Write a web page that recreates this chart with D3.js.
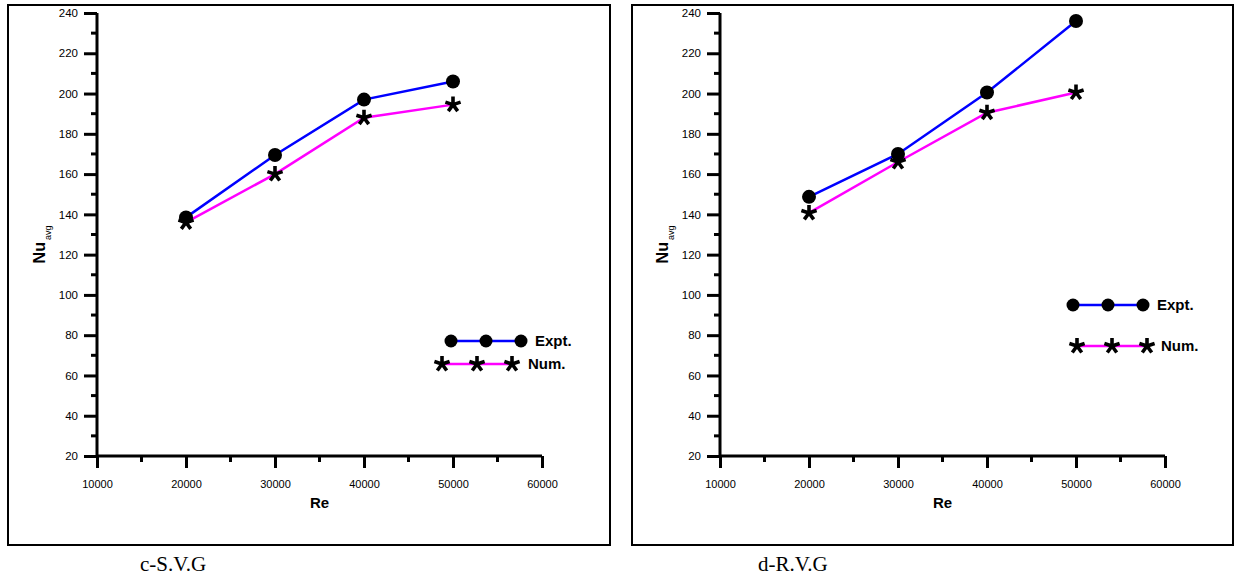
<!DOCTYPE html>
<html><head><meta charset="utf-8">
<script src="https://cdn.jsdelivr.net/npm/d3@7/dist/d3.min.js"></script>
<style>
html,body{margin:0;padding:0;background:#fff;}
svg{display:block;}
</style></head>
<body>
<script>
// ---- data ----
const reValues = [20000, 30000, 40000, 50000];
const svgExpt = [138.5, 169.5, 197, 206];
const svgNum  = [136, 160, 188, 194.5];
const rvgExpt = [148.7, 170, 200.5, 236];
const rvgNum  = [140.7, 166, 190.5, 200.5];
const xTicks = [10000, 20000, 30000, 40000, 50000, 60000];
const yTicks = [20, 40, 60, 80, 100, 120, 140, 160, 180, 200, 220, 240];
const seriesNames = ["Expt.", "Num."];
const captions = ["c-S.V.G", "d-R.V.G"];

const W = 1238, H = 577;
const svg = d3.select("body").append("svg").attr("width", W).attr("height", H);

// custom 5-arm asterisk symbol
const asterisk = {
  draw(ctx, size) {
    const r = Math.sqrt(size);
    for (let i = 0; i < 5; i++) {
      const a = -Math.PI / 2 + i * 2 * Math.PI / 5;
      ctx.moveTo(0, 0);
      ctx.lineTo(r * Math.cos(a), r * Math.sin(a));
    }
  }
};
const FONT = "Liberation Sans, Arial, sans-serif";

function panel(cfg) {
  const g = svg.append("g");
  g.append("rect").attr("x", cfg.fx).attr("y", cfg.fy).attr("width", cfg.fw).attr("height", cfg.fh)
    .attr("fill", "none").attr("stroke", "#000").attr("stroke-width", 2);

  const x = d3.scaleLinear().domain([10000, 60000]).range([cfg.x0, cfg.x1]);
  const y = d3.scaleLinear().domain([20, 240]).range([cfg.y0, cfg.y1]);

  const yMinor = d3.range(30, 240, 20);
  const xMinor = d3.range(15000, 60000, 10000);

  const ya = g.append("g").attr("transform", `translate(${cfg.x0},0)`)
    .call(d3.axisLeft(y).tickValues(yTicks).tickSize(13).tickPadding(6).tickFormat(d3.format("d")));
  ya.select(".domain").attr("stroke-width", 3).attr("d", `M0,${cfg.y0+1.5}V${cfg.y1}`);
  ya.selectAll(".tick line").attr("stroke-width", 3);
  ya.selectAll(".tick text").attr("font-family", FONT).attr("font-size", 11.5).attr("fill", "#000");
  g.append("g").selectAll("line").data(yMinor).join("line")
    .attr("x1", cfg.x0 - 6).attr("x2", cfg.x0).attr("y1", d => y(d)).attr("y2", d => y(d))
    .attr("stroke", "#000").attr("stroke-width", 3);

  const xa = g.append("g").attr("transform", `translate(0,${cfg.y0})`)
    .call(d3.axisBottom(x).tickValues(xTicks).tickSize(12).tickPadding(12).tickFormat(d3.format("d")));
  xa.select(".domain").attr("stroke-width", 3).attr("d", `M${cfg.x0},0H${cfg.x1}`);
  xa.selectAll(".tick line").attr("stroke-width", 3);
  xa.selectAll(".tick text").attr("font-family", FONT).attr("font-size", 11).attr("fill", "#000");
  g.append("g").selectAll("line").data(xMinor).join("line")
    .attr("x1", d => x(d)).attr("x2", d => x(d)).attr("y1", cfg.y0).attr("y2", cfg.y0 + 6)
    .attr("stroke", "#000").attr("stroke-width", 3);

  g.append("text").attr("x", (cfg.x0 + cfg.x1) / 2).attr("y", cfg.y0 + 52)
    .attr("text-anchor", "middle").attr("font-family", FONT)
    .attr("font-weight", "bold").attr("font-size", 15).text("Re");
  const yl = g.append("text").attr("transform", `translate(${cfg.x0 - 52},${(cfg.y0 + cfg.y1) / 2 + 10}) rotate(-90)`)
    .attr("text-anchor", "middle").attr("font-family", FONT)
    .attr("font-weight", "bold").attr("font-size", 16);
  yl.append("tspan").text("Nu");
  yl.append("tspan").attr("font-size", 9).attr("font-weight", "normal").attr("dy", 6).attr("dx", 2).text("avg");

  const pts = (vals) => reValues.map((r, i) => [x(r), y(vals[i])]);
  const line = d3.line();
  g.append("path").attr("d", line(pts(cfg.expt))).attr("fill", "none").attr("stroke", "#0000ff").attr("stroke-width", 2.5);
  g.append("path").attr("d", line(pts(cfg.num))).attr("fill", "none").attr("stroke", "#ff00ff").attr("stroke-width", 2.5);
  g.append("g").selectAll("circle").data(pts(cfg.expt)).join("circle")
    .attr("cx", d => d[0]).attr("cy", d => d[1]).attr("r", 7).attr("fill", "#000");
  const star = d3.symbol().type(asterisk).size(64);
  g.append("g").selectAll("path").data(pts(cfg.num)).join("path")
    .attr("transform", d => `translate(${d[0]},${d[1]})`).attr("d", star())
    .attr("stroke", "#000").attr("stroke-width", 3.6).attr("fill", "none");

  const L = cfg.legend;
  g.append("line").attr("x1", L.ex).attr("x2", L.ex + 2 * L.step).attr("y1", L.ey).attr("y2", L.ey)
    .attr("stroke", "#0000ff").attr("stroke-width", 2.5);
  g.append("g").selectAll("circle").data([0, 1, 2]).join("circle")
    .attr("cx", d => L.ex + d * L.step).attr("cy", L.ey).attr("r", 6.5).attr("fill", "#000");
  g.append("text").attr("x", L.etx).attr("y", L.ey + 5)
    .attr("font-family", FONT).attr("font-weight", "bold").attr("font-size", 15).text(seriesNames[0]);
  g.append("line").attr("x1", L.nx).attr("x2", L.nx + 2 * L.step).attr("y1", L.ny).attr("y2", L.ny)
    .attr("stroke", "#ff00ff").attr("stroke-width", 2.5);
  g.append("g").selectAll("path").data([0, 1, 2]).join("path")
    .attr("transform", d => `translate(${L.nx + d * L.step},${L.ny})`).attr("d", star())
    .attr("stroke", "#000").attr("stroke-width", 3.6).attr("fill", "none");
  g.append("text").attr("x", L.ntx).attr("y", L.ny + 5)
    .attr("font-family", FONT).attr("font-weight", "bold").attr("font-size", 15).text(seriesNames[1]);

  svg.append("text").attr("x", cfg.capx).attr("y", 571)
    .attr("font-family", "Liberation Serif, Times New Roman, serif").attr("font-size", 21).text(cfg.caption);
}

panel({fx: 8, fy: 5, fw: 602, fh: 540, x0: 97, x1: 542, y0: 456, y1: 13,
  expt: svgExpt, num: svgNum, caption: captions[0], capx: 140,
  legend: {ex: 451, ey: 341, nx: 442, ny: 364, step: 35, etx: 535, ntx: 528}});
panel({fx: 632, fy: 5, fw: 601, fh: 540, x0: 720, x1: 1165, y0: 456, y1: 13,
  expt: rvgExpt, num: rvgNum, caption: captions[1], capx: 758,
  legend: {ex: 1073, ey: 305, nx: 1077, ny: 346, step: 35, etx: 1157, ntx: 1161}});
</script>
</body></html>
